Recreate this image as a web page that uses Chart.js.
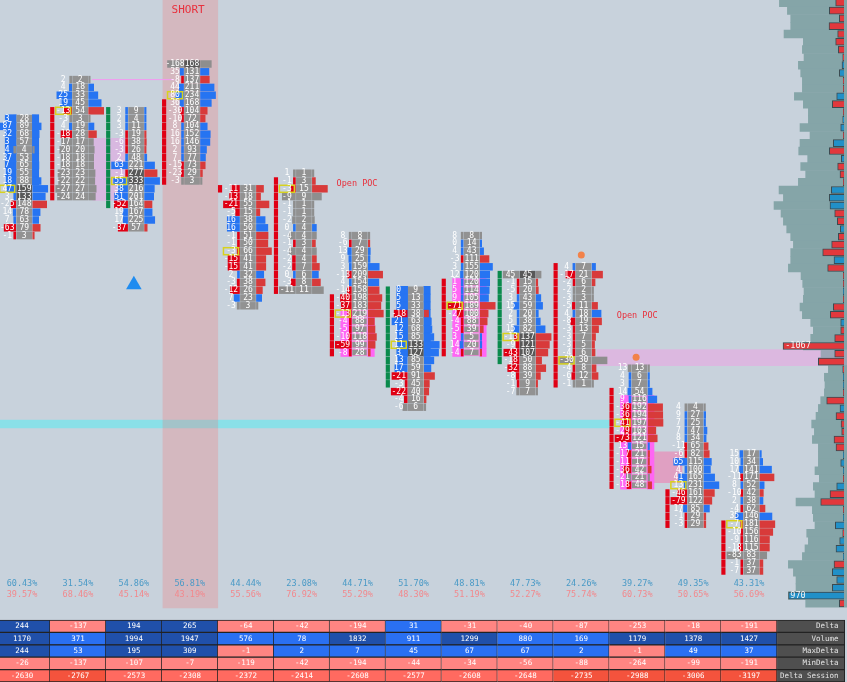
<!DOCTYPE html>
<html>
<head>
<meta charset="utf-8">
<title>Footprint</title>
<style>
  html, body { margin: 0; padding: 0; background: #c8d2dc; }
  #wrap { width: 847px; height: 682px; }
  canvas { display: block; filter: blur(0.4px); }
</style>
<script src="https://cdn.jsdelivr.net/npm/chart.js@4/dist/chart.umd.min.js"></script>
</head>
<body>
<div id="wrap"><canvas id="grafico" width="847" height="682"></canvas></div>
<script>
"use strict";

const firstRow = [15, 10, 14, 8, 24, 22, 30, 37, 30, 35, 34, 47, 52, 58];

const deltaByColumn = [
    [3, 87, 32, 3, 4, 37, 7, 19, 18, 47, 3, -25, 14, 7, -63, -1],
    [2, 4, 25, 19, -13, -3, 4, -18, -17, -20, -18, -18, -23, -22, -27, -24],
    [3, 2, 3, -3, -6, -3, 2, 63, -1, 55, 38, 51, -52, 19, 17, -37],
    [-168, 35, -8, 44, 80, 36, -30, -10, 8, 16, 16, 2, 7, -15, -23, -3],
    [-11, -13, -21, -5, 16, 16, -1, -1, -3, -15, -15, 2, -3, -12, 7, -3],
    [1, -1, -3, -9, -1, -1, -2, 0, -4, -1, -4, -2, -2, 0, -3, -11],
    [8, -6, 13, 9, 3, -13, 4, -14, -40, -37, -13, -4, -5, -10, -59, -8],
    [0, 5, 5, -18, 21, 12, 15, 11, 3, 13, 17, -21, -3, -22, -4, -6],
    [8, 0, 4, -3, 3, 12, 1, 5, 9, -71, -27, -4, -5, 3, 14, -4],
    [45, -1, -5, 3, 15, 2, 5, 15, -13, -9, -43, -18, -32, -8, -1, -7],
    [4, -17, -2, -2, -3, -5, 4, -8, -3, -3, -3, -4, -30, -4, -6, -1],
    [13, 4, 3, 14, 9, -36, -36, -41, -29, -73, 13, -17, -11, -36, -21, -18],
    [4, 9, 7, 7, 8, -11, -6, 65, 4, 41, 13, -46, -79, 17, -1, -3],
    [15, 10, 17, -11, 8, -10, 2, -4, 35, -7, -10, -9, -18, -83, -1, -7]
];

const volumeByColumn = [
    [28, 89, 68, 57, 4, 53, 65, 55, 88, 159, 133, 148, 78, 63, 79, 3],
    [2, 18, 33, 45, 54, 3, 19, 28, 17, 20, 18, 18, 23, 22, 27, 24],
    [9, 4, 11, 19, 38, 26, 48, 221, 277, 333, 216, 201, 164, 167, 225, 57],
    [168, 131, 137, 211, 234, 168, 104, 72, 104, 152, 146, 93, 77, 73, 29, 3],
    [31, 18, 55, 15, 38, 50, 51, 50, 66, 41, 41, 32, 38, 26, 23, 3],
    [1, 3, 15, 9, 1, 1, 2, 4, 4, 3, 4, 4, 7, 6, 8, 11],
    [8, 7, 29, 25, 159, 209, 154, 158, 198, 183, 219, 88, 97, 118, 99, 28],
    [9, 13, 33, 38, 63, 68, 85, 133, 127, 85, 59, 91, 45, 40, 16, 6],
    [8, 14, 43, 111, 155, 120, 120, 114, 105, 189, 100, 88, 39, 5, 20, 7],
    [45, 15, 20, 43, 59, 20, 38, 82, 137, 121, 107, 50, 88, 39, 9, 7],
    [7, 21, 6, 2, 3, 11, 18, 19, 13, 7, 5, 6, 30, 8, 12, 1],
    [13, 6, 7, 54, 116, 192, 194, 197, 103, 121, 15, 21, 17, 42, 21, 48],
    [4, 27, 25, 47, 34, 65, 82, 115, 100, 165, 231, 161, 122, 85, 29, 29],
    [17, 34, 141, 171, 52, 42, 38, 62, 146, 181, 156, 116, 115, 83, 37, 37]
];

// column:row of the darker volume cells
const darkCells = ["0:9", "0:10", "2:8", "2:9", "3:0", "7:7", "7:8", "9:0", "9:8", "9:9", "9:10"];

const bodyFrom = [null, 14, 14, 13, 24, 23, 38, 37, 36, 35, 34, 50, 63, 67];
const bodyTo = [null, 25, 26, 23, 24, 37, 45, 49, 45, 46, 49, 62, 67, 73];
const bodyGreen = [2, 7, 9];

const stackCols = [0, 7, 6, 8, 11];
const stackFrom = [15, 37, 40, 36, 51];
const stackTo = [23, 45, 45, 45, 62];
const stackPink = [false, false, true, true, true];

const buyPercent = ["60.43%", "31.54%", "54.86%", "56.81%", "44.44%", "23.08%", "44.71%", "51.70%", "48.81%", "47.73%", "24.26%", "39.27%", "49.35%", "43.31%"];
const sellPercent = ["39.57%", "68.46%", "45.14%", "43.19%", "55.56%", "76.92%", "55.29%", "48.30%", "51.19%", "52.27%", "75.74%", "60.73%", "50.65%", "56.69%"];

const tableLabels = ["Delta", "Volume", "MaxDelta", "MinDelta", "Delta Session"];
const tableDelta = [244, -137, 194, 265, -64, -42, -194, 31, -31, -40, -87, -253, -18, -191];
const tableVolume = [1170, 371, 1994, 1947, 576, 78, 1832, 911, 1299, 880, 169, 1179, 1378, 1427];
const tableMaxDelta = [244, 53, 195, 309, -1, 2, 7, 45, 67, 67, 2, -1, 49, 37];
const tableMinDelta = [-26, -137, -107, -7, -119, -42, -194, -44, -34, -56, -88, -264, -99, -191];
const tableSession = [-2630, -2767, -2573, -2308, -2372, -2414, -2608, -2577, -2608, -2648, -2735, -2988, -3006, -3197];

// session profile, one value per price row from the top of the chart
const profileVolume = [1183, 1043, 985, 985, 1102, 764, 781, 752, 851, 810, 781, 781, 921, 764, 676, 676, 822, 647, 822, 845, 688, 810, 723, 851, 1189, 1113, 1277, 1154, 1113, 1055, 985, 938, 985, 985, 1026, 804, 775, 752, 764, 822, 781, 635, 589, 635, 764, 455, 501, 326, 396, 385, 396, 460, 501, 542, 618, 571, 606, 501, 501, 501, 560, 484, 589, 560, 892, 606, 589, 560, 705, 676, 735, 781, 1026, 938, 892, 892, 1026, 723];
const profileDelta = [-146, -257, -82, -262, -111, -146, -99, -23, 35, 82, -15, -12, 128, -204, -12, 23, 58, -12, 187, -257, 47, -111, -70, -12, 222, 257, 245, -163, -117, 64, -99, -216, -373, 175, -286, -12, -12, 12, -12, -187, -239, 58, -58, -163, -1067, -163, -449, -23, 12, 12, -12, -303, 70, -140, -52, -41, -175, -140, 12, 58, 12, -12, 128, -245, -408, -12, 12, 152, -23, 76, 140, 12, -175, 204, 128, 204, 970, -82];

const COL_W = 55.93;      // px per column
const ROW_H = 7.8;        // px per price row
const PROFILE_UNIT = 17.5; // profile units per px
const PROFILE_SHIFT = 0.15;
const bandRows = [45, 46];

const px = v => v / COL_W;
const rows = [];
deltaByColumn.forEach((deltas, c) => {
    const vols = volumeByColumn[c];
    const maxVol = Math.max(...vols);
    const maxDelta = Math.max(...deltas.map(Math.abs));
    deltas.forEach((d, i) => rows.push({ c, i, d, v: vols[i], p: firstRow[c] + i, maxVol, maxDelta, isPoc: vols[i] === maxVol }));
});

function inPinkStack(r) {
    return stackCols.some((c, s) => stackPink[s] && c === r.c && r.p >= stackFrom[s] && r.p <= stackTo[s]);
}

function sideColor(r, blue, red) {
    if (Math.abs(r.d) === r.v) return "#8e8e8e";
    return r.d < 0 ? red : blue;
}

function barSet(data, thickness, color, extra) {
    return Object.assign({
        type: "bar", indexAxis: "y", data, barThickness: thickness, backgroundColor: color,
        grouped: false, borderWidth: 0, xAxisID: "x", yAxisID: "y"
    }, extra || {});
}

const cellCol = c => c + 0.04;

// stacked imbalance strips either side of the volume cells
const stackLeft = [], stackRight = [];
stackCols.forEach((c, s) => {
    for (let p = stackFrom[s]; p <= stackTo[s]; p++) {
        const color = stackPink[s] ? "#ff66f4" : "#2674f2";
        stackLeft.push({ x: [cellCol(c) + px(-19), cellCol(c) + px(-8)], y: p, color });
        stackRight.push({ x: [cellCol(c) + px(8), cellCol(c) + px(14.5)], y: p, color });
    }
});

const bodyData = [];
bodyFrom.forEach((from, c) => {
    if (from === null) return;
    for (let p = from; p <= bodyTo[c]; p++) {
        bodyData.push({ x: [c + px(28.5), c + px(32)].map(v => v - 1), y: p, c });
    }
});

const tableRows = [tableDelta, tableVolume, tableMaxDelta, tableMinDelta, tableSession];
const tableCells = [];
tableRows.forEach((vals, r) => vals.forEach((v, c) => tableCells.push({ x: [c - 0.5, c + 0.5], y: r + 0.5, r, v, c })));
tableLabels.forEach((l, r) => tableCells.push({ x: [13.5, 14.71], y: r + 0.5, r, label: l }));

function tableColor(cell) {
    if (cell.label) return "#4f4f4f";
    if (cell.r === 4) return cell.v <= -2700 ? "#f4533d" : "#ff6a60";
    if (cell.v < 0) return "#ff8582";
    const dark = cell.r === 1 ? cell.v >= 1000 : cell.v >= 100;
    return dark ? "#2050aa" : "#2a70f2";
}

// bar defaults put an offset on the index axis, the pixel mapping needs it off
const plainScale = (min, max, reverse) => ({ type: "linear", display: false, offset: false, min, max, reverse: !!reverse, grid: { display: false } });

const labelsPlugin = {
    id: "footprintLabels",
    afterDatasetsDraw(chart) {
        const { ctx, scales: { x, y, xProfile, tableY } } = chart;
        ctx.save();
        ctx.textAlign = "center";
        ctx.textBaseline = "middle";

        rows.forEach(r => {
            const cx = x.getPixelForValue(cellCol(r.c));
            const cy = y.getPixelForValue(r.p);
            if (r.isPoc) {
                ctx.strokeStyle = "#d8d21e";
                ctx.lineWidth = 1.5;
                ctx.strokeRect(cx - 24.5, cy - 3.5, 15, 7);
            }
            ctx.font = "8px 'DejaVu Sans Mono'";
            ctx.fillStyle = "#ffffff";
            ctx.fillText(String(r.v), cx, cy);
            ctx.fillText(String(r.d), cx - 17, cy);
        });

        ctx.font = "8.5px 'DejaVu Sans Mono'";
        buyPercent.forEach((t, c) => {
            const cx = x.getPixelForValue(c);
            ctx.fillStyle = "#4a9ac6";
            ctx.fillText(t, cx, tableY.getPixelForValue(-2.9));
            ctx.fillStyle = "#f2898d";
            ctx.fillText(sellPercent[c], cx, tableY.getPixelForValue(-2.02));
        });

        ctx.font = "7.5px 'DejaVu Sans Mono'";
        tableCells.forEach(cell => {
            const cy = tableY.getPixelForValue(cell.y);
            if (cell.label) {
                ctx.textAlign = "right";
                ctx.fillStyle = "#e4e4e4";
                ctx.fillText(cell.label, x.getPixelForValue(14.6), cy);
                ctx.textAlign = "center";
            } else {
                ctx.fillStyle = "#ffffff";
                ctx.fillText(String(cell.v), x.getPixelForValue(cell.c), cy);
            }
        });

        ctx.fillStyle = "#e8303c";
        ctx.font = "11px 'DejaVu Sans Mono'";
        ctx.fillText("SHORT", x.getPixelForValue(2.97), y.getPixelForValue(1.1));
        ctx.font = "8.5px 'DejaVu Sans Mono'";
        ctx.fillText("Open POC", x.getPixelForValue(5.99), y.getPixelForValue(23.4));
        ctx.fillText("Open POC", x.getPixelForValue(11), y.getPixelForValue(40.3));

        ctx.fillStyle = "#f4f4f4";
        profileDelta.forEach((v, n) => {
            if (Math.abs(v) < 900) return;
            ctx.fillText(String(v), xProfile.getPixelForValue(49 * PROFILE_UNIT), y.getPixelForValue(n + PROFILE_SHIFT));
        });
        ctx.restore();
    }
};

new Chart(document.getElementById("grafico"), {
    type: "bar",
    data: {
        // first dataset is painted last
        datasets: [
            { type: "scatter", data: [{ x: 2, y: 36.3 }], pointStyle: "triangle", pointRadius: 9, backgroundColor: "#1f8cf0", borderWidth: 0, xAxisID: "x", yAxisID: "y" },
            { type: "scatter", data: [{ x: 10, y: 32.5 }, { x: 10.98, y: 45.6 }], pointStyle: "circle", pointRadius: 3.5, backgroundColor: "#f2824a", borderWidth: 0, xAxisID: "x", yAxisID: "y" },
            { type: "line", data: [{ x: 1.25, y: 10 }, { x: 2.72, y: 10 }], borderColor: "#f29af0", borderWidth: 1, pointRadius: 0, xAxisID: "x", yAxisID: "y" },
            barSet(rows.map(r => ({ x: [cellCol(r.c) - px(7.5), cellCol(r.c) + px(7.5)], y: r.p, r })), 6.8,
                ctx => darkCells.includes(ctx.raw.r.c + ":" + ctx.raw.r.i) ? "#585858" : "#929292",
                { borderWidth: ctx => inPinkStack(ctx.raw.r) ? 1 : 0, borderColor: "#f08ad8" }),
            barSet(rows.map(r => {
                const len = Math.max(2, 16 * Math.abs(r.d) / r.maxDelta);
                return { x: [cellCol(r.c) - px(8.5 + len), cellCol(r.c) - px(8.5)], y: r.p, r };
            }), 6.8, ctx => sideColor(ctx.raw.r, "#2674f2", "#e00014")),
            barSet(rows.map(r => {
                const len = Math.max(1.5, 15 * r.v / r.maxVol);
                return { x: [cellCol(r.c) + px(8.5), cellCol(r.c) + px(8.5 + len)], y: r.p, r };
            }), 6.8, ctx => sideColor(ctx.raw.r, "#2674f2", "#d83a3a")),
            barSet(stackLeft, 7.8, ctx => ctx.raw.color),
            barSet(stackRight, 7.8, ctx => ctx.raw.color),
            barSet(bodyData, 6.8, ctx => bodyGreen.includes(ctx.raw.c) ? "#0a8a4c" : "#e00014"),
            barSet(tableCells, 12.4, ctx => tableColor(ctx.raw), { yAxisID: "tableY", borderWidth: 1, borderColor: "#222222" }),
            barSet(profileDelta.map((v, n) => ({ x: [3 * PROFILE_UNIT, 3 * PROFILE_UNIT + Math.abs(v)], y: n + PROFILE_SHIFT, v })), 7,
                ctx => ctx.raw.v < 0 ? "#e2383c" : "#2190c8", { xAxisID: "xProfile", borderWidth: 1, borderColor: "#3c4a50" }),
            barSet(profileVolume.map((v, n) => ({ x: [0, v], y: n + PROFILE_SHIFT, n })), ROW_H,
                ctx => bandRows.includes(ctx.raw.n) ? "#9ba5b5" : "#85a5a8", { xAxisID: "xProfile" }),
            barSet([{ x: [2.52, 3.5], y: 38.77 }], 608, "rgba(254,92,93,0.22)"),
            barSet([{ x: [10.28, 14.29], y: 45.65 }], 16, "#dcb8e0"),
            barSet([{ x: [1.27, 1.84], y: 21.5 }], 62, "#d8b8e0"),
            barSet([{ x: [11.28, 11.8], y: 59.7 }], 31, "#e0a0c2"),
            barSet([{ x: [-0.4, 10.5], y: 54.15 }], 8, "#8ae0e8")
        ]
    },
    options: {
        indexAxis: "y",
        responsive: false,
        animation: false,
        events: [],
        layout: { padding: 0, autoPadding: false },
        plugins: { legend: { display: false }, tooltip: { enabled: false } },
        scales: {
            x: plainScale(-22 / COL_W, (847 - 22) / COL_W),
            y: plainScale(-1.6 / ROW_H, (682 - 1.6) / ROW_H, true),
            xProfile: plainScale(0, 847 * PROFILE_UNIT, true),
            tableY: plainScale(-50, 5, true)
        }
    },
    plugins: [labelsPlugin]
});
</script>
</body>
</html>
